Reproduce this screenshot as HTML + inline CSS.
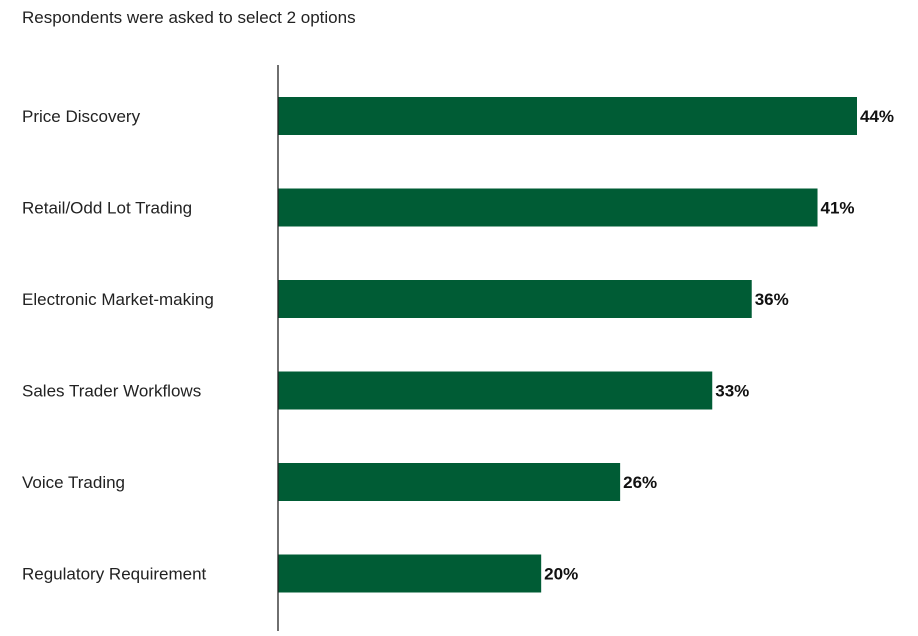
<!DOCTYPE html>
<html>
<head>
<meta charset="utf-8">
<style>
  html, body { margin:0; padding:0; background:#fff; }
  body { width:918px; height:631px; overflow:hidden; font-family:"Liberation Sans", sans-serif; }
  svg text { font-family:"Liberation Sans", sans-serif; }
</style>
</head>
<body>
<svg id="chart" width="918" height="631" viewBox="0 0 918 631" xmlns="http://www.w3.org/2000/svg">
  <text x="22" y="23" font-size="17" fill="#222">Respondents were asked to select 2 options</text>
  <g id="bars"></g>
  <line x1="278" y1="65" x2="278" y2="631" stroke="#222" stroke-width="1.3"/>
</svg>
<script>
const categories = ["Price Discovery","Retail/Odd Lot Trading","Electronic Market-making","Sales Trader Workflows","Voice Trading","Regulatory Requirement"];
const values = [44, 41, 36, 33, 26, 20];
const valueLabels = ["44%","41%","36%","33%","26%","20%"];

const x0 = 278, pxPerUnit = 579/44;
const xScale = v => x0 + v * pxPerUnit;
const yTop = 97, step = 91.5, barH = 38;
const yScale = i => yTop + i * step;
const NS = "http://www.w3.org/2000/svg";
const g = document.getElementById("bars");
categories.forEach((c, i) => {
  const y = yScale(i);
  const lab = document.createElementNS(NS, "text");
  
  
  lab.setAttribute("x", 22); lab.setAttribute("y", y + barH/2 + 6);
  lab.setAttribute("font-size", "17"); lab.setAttribute("fill", "#222");
  lab.textContent = c; g.appendChild(lab);
  const r = document.createElementNS(NS, "rect");
  
  
  r.setAttribute("x", x0); r.setAttribute("y", y);
  r.setAttribute("width", xScale(values[i]) - x0); r.setAttribute("height", barH);
  r.setAttribute("fill", "#005C35");
  g.appendChild(r);
  const v = document.createElementNS(NS, "text");
  
  
  v.setAttribute("x", xScale(values[i]) + 3); v.setAttribute("y", y + barH/2 + 6);
  v.setAttribute("font-size", "17"); v.setAttribute("font-weight", "bold"); v.setAttribute("fill", "#111");
  v.textContent = valueLabels[i]; g.appendChild(v);
});
</script>
</body>
</html>
